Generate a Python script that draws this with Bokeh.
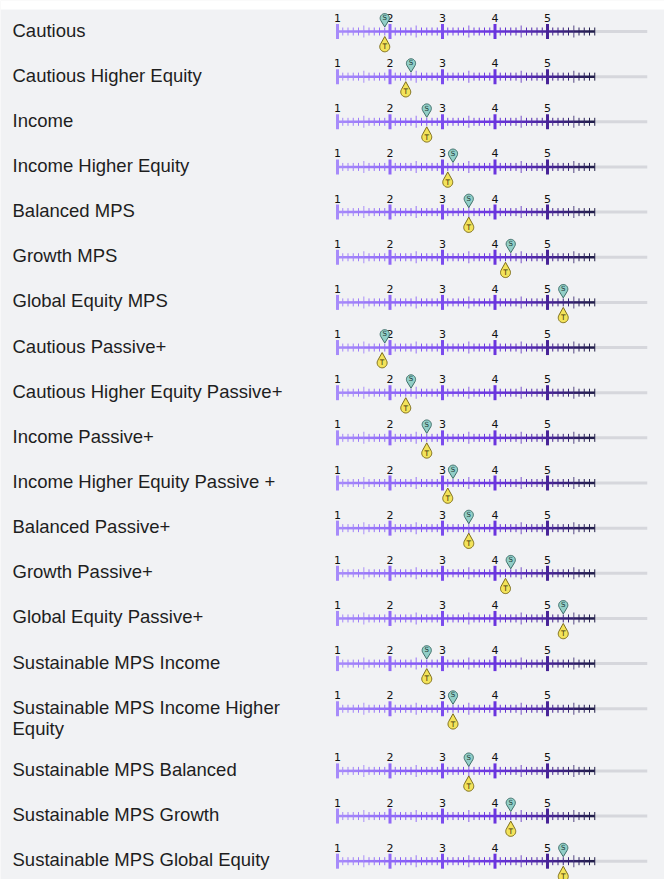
import math
from bokeh.plotting import figure
from bokeh.models import Range1d, ColumnDataSource
from bokeh.core.properties import value
from bokeh.embed import file_html
from bokeh.resources import INLINE

# ---------------- data ----------------
portfolios = [
    "Cautious",
    "Cautious Higher Equity",
    "Income",
    "Income Higher Equity",
    "Balanced MPS",
    "Growth MPS",
    "Global Equity MPS",
    "Cautious Passive+",
    "Cautious Higher Equity Passive+",
    "Income Passive+",
    "Income Higher Equity Passive +",
    "Balanced Passive+",
    "Growth Passive+",
    "Global Equity Passive+",
    "Sustainable MPS Income",
    "Sustainable MPS Income Higher\nEquity",
    "Sustainable MPS Balanced",
    "Sustainable MPS Growth",
    "Sustainable MPS Global Equity",
]
s_values = [1.9, 2.4, 2.7, 3.2, 3.5, 4.3, 5.3,
            1.9, 2.4, 2.7, 3.2, 3.5, 4.3, 5.3,
            2.7, 3.2, 3.5, 4.3, 5.3]
t_values = [1.9, 2.3, 2.7, 3.1, 3.5, 4.2, 5.3,
            1.85, 2.3, 2.7, 3.1, 3.5, 4.2, 5.3,
            2.7, 3.2, 3.5, 4.3, 5.3]
scale_labels = ["1", "2", "3", "4", "5"]
scale_label_values = [1, 2, 3, 4, 5]
scale_start = 1.0
scale_colored_end = 5.9
scale_track_end = 6.9
minor_step = 0.1

# ---------------- layout ----------------
W, H = 664, 879
PX = 52.5                       # pixels per scale unit
X0 = scale_start - 337 / PX
X1 = X0 + W / PX
BG = "#f1f2f4"

def px_x(px):   # page x pixel -> data x
    return X0 + px / PX

row_y = [31 + 45.15 * i + (17 if i >= 16 else 0) for i in range(len(portfolios))]

p = figure(width=W, height=H, x_range=Range1d(X0, X1), y_range=Range1d(H, 0),
           output_backend="svg", toolbar_location=None, min_border=0)
p.axis.visible = False
p.grid.visible = False
p.background_fill_color = BG
p.border_fill_color = BG
p.outline_line_color = None

# white strip at the very top
p.quad(left=[X0], right=[X1], top=[0], bottom=[9], fill_color="white", line_color=None)

# colour gradient along the ruler
stops = [(1.0, (167, 139, 250)), (2.5, (132, 88, 246)), (4.0, (106, 52, 222)),
         (5.0, (72, 36, 152)), (5.9, (32, 30, 72))]

def grad(v):
    for (a, ca), (b, cb) in zip(stops[:-1], stops[1:]):
        if v <= b:
            t = (v - a) / (b - a)
            c = [round(ca[k] + (cb[k] - ca[k]) * t) for k in range(3)]
            return "#%02x%02x%02x" % tuple(c)
    return "#%02x%02x%02x" % stops[-1][1]

n_ticks = int(round((scale_colored_end - scale_start) / minor_step)) + 1
tick_vals = [round(scale_start + i * minor_step, 2) for i in range(n_ticks)]

# grey track
p.segment(x0=[scale_colored_end] * len(row_y), x1=[scale_track_end] * len(row_y),
          y0=row_y, y1=row_y, line_color="#d6d7dc", line_width=3)

# coloured line
sx0, sx1, sy, sc = [], [], [], []
for y in row_y:
    for a, b in zip(tick_vals[:-1], tick_vals[1:]):
        sx0.append(a); sx1.append(b); sy.append(y); sc.append(grad((a + b) / 2))
p.segment(x0="x0", x1="x1", y0="y", y1="y", line_color="c", line_width=2.5,
          source=ColumnDataSource(dict(x0=sx0, x1=sx1, y=sy, c=sc)))

# ticks
tk = dict(x=[], y0=[], y1=[], c=[], w=[], a=[])
for y in row_y:
    for v in tick_vals:
        frac = round((v - math.floor(v + 1e-9)) * 10)
        if frac == 0:
            h, w, a = 7.5, 3, 1.0
        elif frac == 5:
            h, w, a = 6, 1.5, 0.55
        else:
            h, w, a = 4, 1, 1.0
        tk["x"].append(v); tk["y0"].append(y - h); tk["y1"].append(y + h)
        tk["c"].append(grad(v)); tk["w"].append(w); tk["a"].append(a)
p.segment(x0="x", x1="x", y0="y0", y1="y1", line_color="c", line_width="w",
          line_alpha="a", source=ColumnDataSource(tk))

# scale numbers
nx, ny, nt = [], [], []
for y in row_y:
    for v, lab in zip(scale_label_values, scale_labels):
        nx.append(v); ny.append(y - 13.5); nt.append(lab)
p.text(x=nx, y=ny, text=nt, text_font=value("DejaVu Sans"), text_font_size="11px",
       text_color="#111111", text_align="center", text_baseline="middle")

# pins
def pin(cx, tip_y, r, d, down):
    u = 1 if down else -1            # direction from centre to tip (y)
    cy = tip_y - u * d
    alpha = math.acos(r / d)
    xs, ys = [], []
    n = 24
    for i in range(n + 1):
        psi = alpha + (2 * math.pi - 2 * alpha) * i / n
        ox = r * math.sin(psi)
        oy = u * r * math.cos(psi)
        xs.append(cx + ox / PX); ys.append(cy + oy)
    xs.append(cx); ys.append(tip_y)
    return xs, ys, cy

sxs, sys_, scy = [], [], []
txs, tys, tcy = [], [], []
for y, sv, tv in zip(row_y, s_values, t_values):
    a, b, c = pin(sv, y - 4.5, 4.6, 8.8, True)
    sxs.append(a); sys_.append(b); scy.append(c)
    a, b, c = pin(tv, y + 5, 5.0, 10.3, False)
    txs.append(a); tys.append(b); tcy.append(c)

p.patches(xs=sxs, ys=sys_, fill_color="#92cfc7", line_color="#3f6f6a", line_width=1)
p.patches(xs=txs, ys=tys, fill_color="#f3e35a", line_color="#7d6d1a", line_width=1)
p.text(x=s_values, y=scy, text=["S"] * len(s_values), text_font=value("DejaVu Sans"),
       text_font_size="7px", text_color="#1d3b38", text_align="center",
       text_baseline="middle")
p.text(x=t_values, y=tcy, text=["T"] * len(t_values), text_font=value("DejaVu Sans"),
       text_font_size="7.5px", text_color="#3a3208", text_align="center",
       text_baseline="middle")

# portfolio labels
p.text(x=[px_x(12)] * len(portfolios), y=[y - 12 for y in row_y], text=portfolios,
       text_font=value("Liberation Sans"), text_font_size="18.5px",
       text_color="#1e1e1e", text_align="left", text_baseline="top",
       text_line_height=1.0)

open("out.html", "w").write(file_html(p, INLINE))
